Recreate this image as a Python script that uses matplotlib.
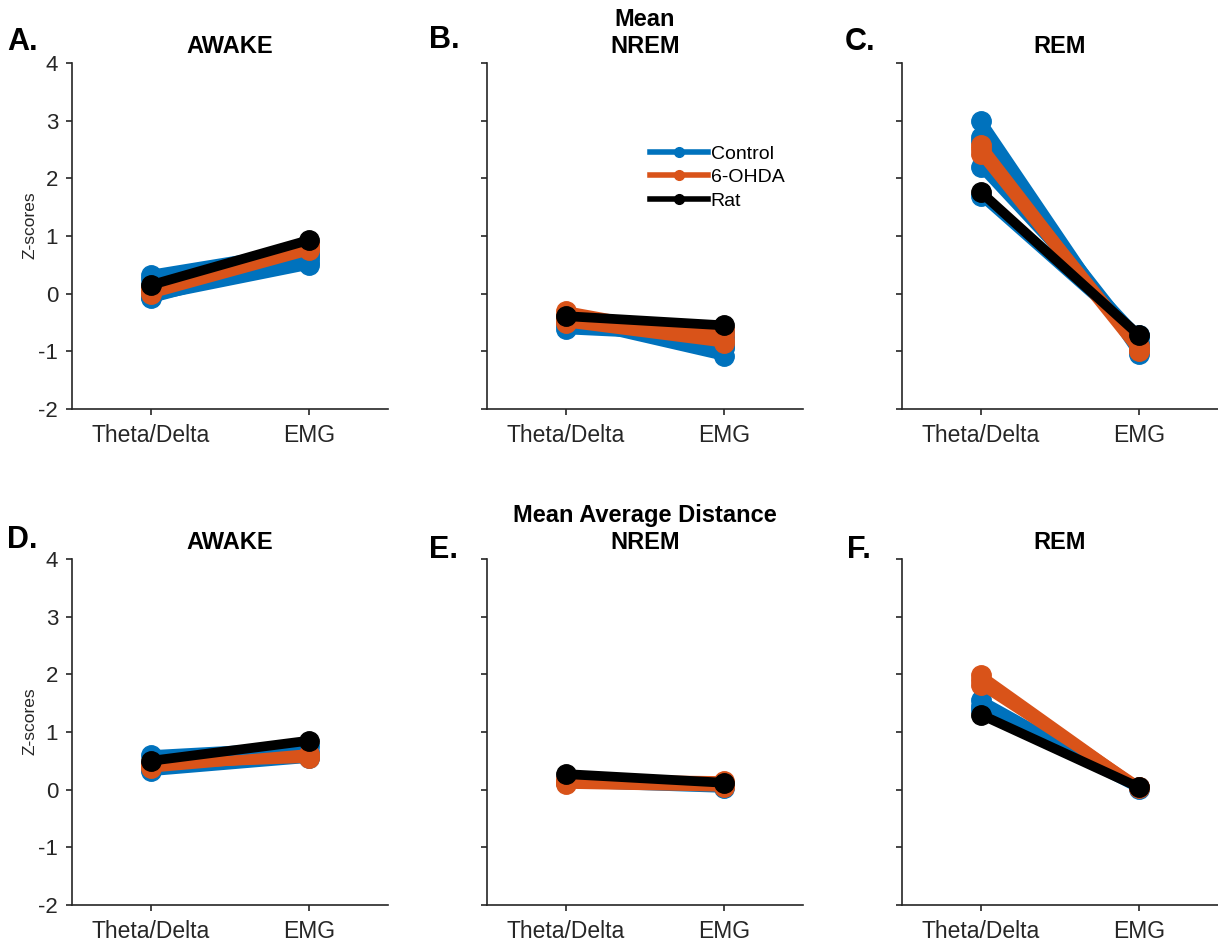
import matplotlib
matplotlib.use("Agg")
import matplotlib.pyplot as plt

plt.rcParams['font.family'] = ['Liberation Sans', 'DejaVu Sans']
plt.rcParams['axes.unicode_minus'] = False

# measures on the x axis
measures = ["Theta/Delta", "EMG"]
yticks = [-2, -1, 0, 1, 2, 3, 4]

# z-scores per animal, [Theta/Delta, EMG]; mean (top row)
mean_awake_ctrl = [[0.33, 0.78], [0.25, 0.70], [0.15, 0.62], [0.05, 0.55], [-0.05, 0.50], [-0.08, 0.65]]
mean_awake_ohda = [[0.10, 0.85], [0.05, 0.80], [0.00, 0.75], [0.08, 0.88]]
mean_awake_rat = [0.15, 0.93]

mean_nrem_ctrl = [[-0.45, -1.08], [-0.50, -0.95], [-0.55, -0.85], [-0.62, -0.75], [-0.40, -0.65], [-0.48, -0.90]]
mean_nrem_ohda = [[-0.30, -0.80], [-0.38, -0.70], [-0.45, -0.62], [-0.50, -0.85]]
mean_nrem_rat = [-0.39, -0.55]

mean_rem_ctrl = [[3.00, -1.05], [2.72, -0.95], [2.65, -0.85], [2.20, -0.75], [1.70, -0.72]]
mean_rem_ohda = [[2.58, -0.98], [2.50, -0.90], [2.42, -1.00]]
mean_rem_rat = [1.76, -0.72]

# mean average distance (bottom row)
dist_awake_ctrl = [[0.60, 0.75], [0.45, 0.65], [0.35, 0.60], [0.32, 0.55]]
dist_awake_ohda = [[0.42, 0.58], [0.38, 0.62], [0.45, 0.55]]
dist_awake_rat = [0.50, 0.85]

dist_nrem_ctrl = [[0.12, 0.03], [0.15, 0.10]]
dist_nrem_ohda = [[0.10, 0.05], [0.14, 0.10], [0.18, 0.15]]
dist_nrem_rat = [0.27, 0.12]

dist_rem_ctrl = [[1.55, 0.03], [1.45, 0.02], [1.38, 0.05]]
dist_rem_ohda = [[1.98, 0.03], [1.90, 0.05], [1.82, 0.04]]
dist_rem_rat = [1.30, 0.04]

panels = [
    ("A.", "AWAKE", mean_awake_ctrl, mean_awake_ohda, mean_awake_rat),
    ("B.", "Mean\nNREM", mean_nrem_ctrl, mean_nrem_ohda, mean_nrem_rat),
    ("C.", "REM", mean_rem_ctrl, mean_rem_ohda, mean_rem_rat),
    ("D.", "AWAKE", dist_awake_ctrl, dist_awake_ohda, dist_awake_rat),
    ("E.", "Mean Average Distance\nNREM", dist_nrem_ctrl, dist_nrem_ohda, dist_nrem_rat),
    ("F.", "REM", dist_rem_ctrl, dist_rem_ohda, dist_rem_rat),
]

blue = "#0072BD"
orange = "#D95319"
dark = "#262626"

W, H = 1218, 943
fig = plt.figure(figsize=(W / 100, H / 100), dpi=100)

lefts = [72, 487, 902]
bottoms = [409, 905]
aw, ah = 316, 346
letter_pos = [(7, 42), (429, 40), (845, 42), (7, 540), (429, 550), (847, 550)]

x = [1, 2]
for i, (letter, title, ctrl, ohda, rat) in enumerate(panels):
    row, col = divmod(i, 3)
    ax = fig.add_axes([lefts[col] / W, 1 - bottoms[row] / H, aw / W, ah / H])
    for v in ctrl:
        ax.plot(x, v, color=blue, lw=7, marker="o", ms=14, solid_capstyle="round")
    for v in ohda:
        ax.plot(x, v, color=orange, lw=7, marker="o", ms=14, solid_capstyle="round")
    ax.plot(x, rat, color="black", lw=7, marker="o", ms=14, solid_capstyle="round")

    ax.set_xlim(0.5, 2.5)
    ax.set_ylim(-2, 4)
    ax.set_xticks(x)
    ax.set_xticklabels(measures)
    ax.set_yticks(yticks)
    ax.spines["top"].set_visible(False)
    ax.spines["right"].set_visible(False)
    for s in ("left", "bottom"):
        ax.spines[s].set_color(dark)
        ax.spines[s].set_linewidth(1.2)
    ax.tick_params(direction="out", length=4, width=1.2, colors=dark, labelsize=16.5)
    ax.tick_params(axis="x", pad=7)
    ax.tick_params(axis="y", pad=6, labelsize=16)
    if col == 0:
        ax.set_ylabel("Z-scores", fontsize=12.5, color=dark)
        ax.yaxis.set_label_coords(-0.11, 0.53)
    else:
        ax.set_yticklabels([])
    ax.set_title(title, fontsize=17, fontweight="bold", pad=7, linespacing=1.25)
    fig.text(letter_pos[i][0] / W, 1 - letter_pos[i][1] / H, letter,
             fontsize=22, fontweight="bold", va="center", ha="left")

    if i == 1:
        handles = [
            plt.Line2D([], [], color=blue, lw=4, marker="o", ms=7),
            plt.Line2D([], [], color=orange, lw=4, marker="o", ms=7),
            plt.Line2D([], [], color="black", lw=4, marker="o", ms=7),
        ]
        ax.legend(handles, ["Control", "6-OHDA", "Rat"], loc="upper left",
                  bbox_to_anchor=(0.49, 0.785), frameon=False, fontsize=14,
                  handlelength=3.0, handletextpad=0.15, labelspacing=0.3,
                  borderaxespad=0)

fig.savefig("out.png", dpi=100)
